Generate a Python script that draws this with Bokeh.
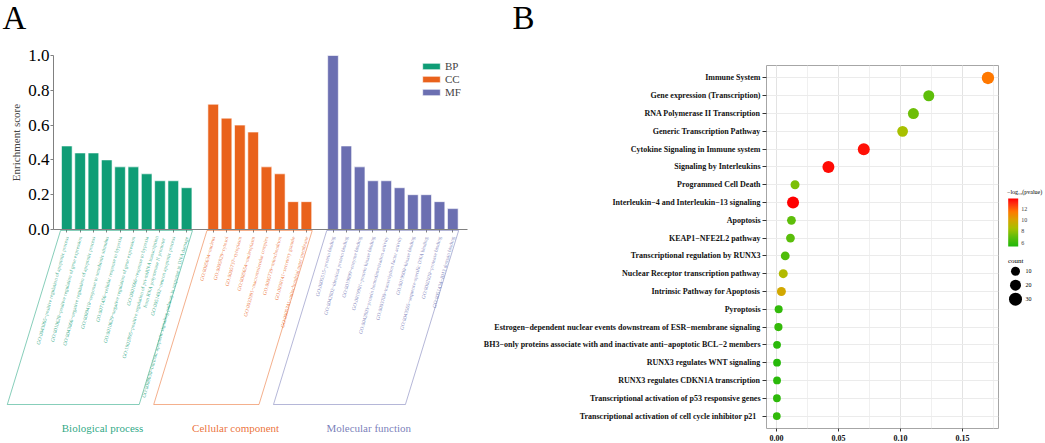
import math
import numpy as np
from bokeh.plotting import figure
from bokeh.models import (Range1d, FactorRange, FixedTicker, PrintfTickFormatter, Label, LabelSet,
                          PolyAnnotation, ColumnDataSource, Legend, LegendItem, LinearColorMapper,
                          ColorBar, SingleIntervalTicker, LinearAxis)
from bokeh.layouts import row, column
from bokeh.embed import file_html
from bokeh.resources import INLINE
from bokeh.core.properties import value

SERIF = "Liberation Serif"

# ---------------- Panel A data ----------------
bp_terms = [
    "GO:0043065~positive regulation of apoptotic process",
    "GO:0010628~positive regulation of gene expression",
    "GO:0043066~negative regulation of apoptotic process",
    "GO:0009410~response to xenobiotic stimulus",
    "GO:0071456~cellular response to hypoxia",
    "GO:0010629~negative regulation of gene expression",
    "GO:0001666~response to hypoxia",
    "GO:1902895~positive regulation of pri-miRNA transcription\nfrom RNA polymerase II promoter",
    "GO:0051402~neuron apoptotic process",
    "GO:0008630~intrinsic apoptotic signaling pathway in response to DNA damage",
]
bp_scores = [0.48, 0.44, 0.44, 0.40, 0.36, 0.36, 0.32, 0.28, 0.28, 0.24]

cc_terms = [
    "GO:0005634~nucleus",
    "GO:0005829~cytosol",
    "GO:0005737~cytoplasm",
    "GO:0005654~nucleoplasm",
    "GO:0032991~macromolecular complex",
    "GO:0005739~mitochondrion",
    "GO:0030141~secretory granule",
    "GO:0005741~mitochondrial outer membrane",
]
cc_scores = [0.72, 0.64, 0.60, 0.56, 0.36, 0.32, 0.16, 0.16]

mf_terms = [
    "GO:0005515~protein binding",
    "GO:0042802~identical protein binding",
    "GO:0019899~enzyme binding",
    "GO:0019901~protein kinase binding",
    "GO:0042803~protein homodimerization activity",
    "GO:0003700~transcription factor activity",
    "GO:0019900~kinase binding",
    "GO:0043565~sequence-specific DNA binding",
    "GO:0002020~protease binding",
    "GO:0051434~BH3 domain binding",
]
mf_scores = [1.00, 0.48, 0.36, 0.28, 0.28, 0.24, 0.20, 0.20, 0.16, 0.12]

group_keys = ["BP", "CC", "MF"]
group_names = ["Biological process", "Cellular component", "Molecular function"]
group_colors = ["#0f9d76", "#e9621c", "#6b6fb1"]
y_ticks_a = [0.0, 0.2, 0.4, 0.6, 0.8, 1.0]

# ---------------- Panel B data ----------------
pathways = [
    "Immune System",
    "Gene expression (Transcription)",
    "RNA Polymerase II Transcription",
    "Generic Transcription Pathway",
    "Cytokine Signaling in Immune system",
    "Signaling by Interleukins",
    "Programmed Cell Death",
    "Interleukin\u22124 and Interleukin\u221213 signaling",
    "Apoptosis",
    "KEAP1\u2212NFE2L2 pathway",
    "Transcriptional regulation by RUNX3",
    "Nuclear Receptor transcription pathway",
    "Intrinsic Pathway for Apoptosis",
    "Pyroptosis",
    "Estrogen\u2212dependent nuclear events downstream of ESR\u2212membrane signaling",
    "BH3\u2212only proteins associate with and inactivate anti\u2212apoptotic BCL\u22122 members",
    "RUNX3 regulates WNT signaling",
    "RUNX3 regulates CDKN1A transcription",
    "Transcriptional activation of p53 responsive genes",
    "Transcriptional  activation of  cell cycle inhibitor p21",
]
ratio = [0.1705, 0.1228, 0.1104, 0.1017, 0.0704, 0.0419, 0.0150, 0.0134, 0.0121, 0.0113,
         0.0071, 0.0055, 0.0040, 0.0018, 0.0016, 0.0005, 0.0005, 0.0005, 0.0004, 0.0003]
neg_log_p = [11.5, 7.0, 7.3, 8.5, 13.5, 13.6, 7.6, 13.8, 7.0, 6.9,
             6.6, 8.8, 9.8, 5.8, 5.9, 5.6, 5.5, 5.6, 5.7, 5.8]
counts = [27, 20, 20, 19, 25, 25, 10, 25, 9, 9,
          9, 10, 10, 5, 6, 4, 4, 4, 4, 4]
legend_counts = [10, 20, 30]
cbar_ticks = [6, 8, 10, 12]


def dot_size(c):
    return 7 + 0.2 * np.asarray(c, dtype=float)


PAGE_OFF = 0
HALL = 443
PAGE_BOTTOM = PAGE_OFF + HALL
TOTAL_W = 1045

# ======================= Figure A =======================
WA = 480
A_X0_PAGE = PAGE_OFF
PITCH = 13.31                          # px per category slot
AXIS_X_PAGE = 53                       # page x of the y axis (data x = -1)
Y0_PAGE, Y1_PAGE = 229, 55             # page y of score 0 and 1
PX_PER_SCORE = Y0_PAGE - Y1_PAGE

xa0 = -1 - (AXIS_X_PAGE - A_X0_PAGE) / PITCH
xa1 = xa0 + WA / PITCH


def ay(page_y):
    return (Y0_PAGE - page_y) / PX_PER_SCORE


figA = figure(width=WA, height=HALL, x_range=Range1d(xa0, xa1),
              y_range=Range1d(ay(PAGE_BOTTOM), ay(PAGE_OFF)),
              output_backend="svg", toolbar_location=None,
              min_border=0)
figA.outline_line_color = None
figA.grid.visible = False

groups_terms = [bp_terms, cc_terms, mf_terms]
groups_scores = [bp_scores, cc_scores, mf_scores]

positions = []
offset = 0
renderers = []
for terms, scores, col, key in zip(groups_terms, groups_scores, group_colors, group_keys):
    xs = [offset + i for i in range(len(scores))]
    positions.append(xs)
    offset = xs[-1] + 2
    src = ColumnDataSource(dict(x=xs, top=scores))
    r = figA.vbar(x="x", top="top", width=0.8, source=src, fill_color=col,
                  line_color="white", line_width=0.6)
    renderers.append((key, r))

x_axis_end = positions[-1][-1] + 1.1

# y axis
yax = figA.yaxis[0]
yax.fixed_location = -1
yax.bounds = (0, 1)
yax.ticker = FixedTicker(ticks=y_ticks_a)
yax.formatter = PrintfTickFormatter(format="%.1f")
yax.axis_label = "Enrichment score"
yax.axis_label_text_font = SERIF
yax.axis_label_text_font_size = "11px"
yax.axis_label_text_font_style = "normal"
yax.axis_label_standoff = 3
yax.major_label_text_font = SERIF
yax.major_label_text_font_size = "17px"
yax.major_label_text_color = "black"
yax.major_label_standoff = 1
yax.minor_tick_line_color = None
yax.axis_line_color = "#808080"
yax.major_tick_line_color = "#808080"
yax.major_tick_out = 3
yax.major_tick_in = 0

# x axes: one per group (shared baseline at score 0) carrying the GO term labels
xaxes = [figA.xaxis[0]]
for _ in range(2):
    ax = LinearAxis()
    figA.add_layout(ax, "below")
    xaxes.append(ax)
for i, (ax, xs, terms, col) in enumerate(zip(xaxes, positions, groups_terms, group_colors)):
    ax.fixed_location = 0
    ax.ticker = FixedTicker(ticks=xs)
    ax.major_label_overrides = {x: t for x, t in zip(xs, terms)}
    ax.major_label_orientation = math.radians(75)
    ax.major_label_text_font = SERIF
    ax.major_label_text_font_size = "5.2px"
    ax.major_label_text_color = col
    ax.major_label_text_alpha = 0.85
    ax.major_label_standoff = 4
    ax.minor_tick_line_color = None
    ax.major_tick_line_color = "#808080"
    ax.major_tick_out = 3
    ax.major_tick_in = 0
    if i == 0:
        ax.axis_line_color = "#808080"
        ax.bounds = (-1, x_axis_end)
    else:
        ax.axis_line_color = None

# parallelogram boxes + group names
SHIFT = 4.0
box_top, box_bot = ay(230), ay(404)
for xs, col, name in zip(positions, group_colors, group_names):
    x0, x1 = xs[0] - 0.47, xs[-1] + 0.44
    figA.add_layout(PolyAnnotation(xs=[x0, x1, x1 - SHIFT, x0 - SHIFT],
                                   ys=[box_top, box_top, box_bot, box_bot],
                                   xs_units="data", ys_units="data", fill_color=None, fill_alpha=0,
                                   line_color=col, line_alpha=0.5, line_width=1))
    figA.add_layout(Label(x=(x0 + x1) / 2 - SHIFT / 2 + 0.2, y=ay(427), text=name,
                          text_align="center", text_baseline="middle", text_color=col,
                          text_alpha=0.9, text_font=SERIF, text_font_size="11px"))

# panel letter A
figA.add_layout(Label(x=xa0 + 2 / PITCH, y=ay(17.5), text="A", text_align="left",
                      text_baseline="middle",
                      text_font=SERIF, text_font_size="33px", text_color="black"))

# legend
leg = Legend(items=[LegendItem(label=k, renderers=[r]) for k, r in renderers],
             location=(420 - A_X0_PAGE, PAGE_BOTTOM - 98.5), padding=0, margin=0, spacing=0,
             glyph_width=22, glyph_height=8, label_height=13, label_standoff=3,
             label_text_font=SERIF, label_text_font_size="11px",
             border_line_color=None, background_fill_color=None, background_fill_alpha=0)
figA.add_layout(leg)

# ======================= Figure B (letter strip + plot) =======================
WB = 519
B_X0_PAGE = PAGE_OFF + WA
HT = 34                                  # height of the strip holding the letter B
figT = figure(width=WB, height=HT, x_range=Range1d(B_X0_PAGE, B_X0_PAGE + WB),
              y_range=Range1d(PAGE_OFF + HT, PAGE_OFF),
              output_backend="svg", toolbar_location=None, min_border=0,
              x_axis_location=None, y_axis_location=None)
figT.grid.visible = False
figT.outline_line_color = None
figT.add_layout(Label(x=512, y=17.5, text="B", text_align="left", text_baseline="middle",
                      text_font=SERIF, text_font_size="33px", text_color="black"))

HB = HALL - HT
B_FRAME_LEFT_PAGE, B_FRAME_RIGHT_PAGE = 762, 998
B_FRAME_TOP_PAGE, B_FRAME_BOT_PAGE = 65, 429
B_LEFT = B_FRAME_LEFT_PAGE - B_X0_PAGE
B_RIGHT = WB - B_LEFT - (B_FRAME_RIGHT_PAGE - B_FRAME_LEFT_PAGE)
B_TOP = B_FRAME_TOP_PAGE - PAGE_OFF - HT
B_BOT = PAGE_BOTTOM - B_FRAME_BOT_PAGE
xr_b = (-0.008, 0.179)

mapper_stops = [(5.3, "#1fb80a"), (7.0, "#5ebe0a"), (8.5, "#a8c000"), (10.0, "#d8a400"),
                (11.5, "#ff7800"), (13.0, "#ff2a10"), (13.8, "#ff0000")]


def hex2rgb(h):
    h = h.lstrip("#")
    return np.array([int(h[i:i + 2], 16) for i in (0, 2, 4)], dtype=float)


lo, hi = mapper_stops[0][0], mapper_stops[-1][0]
vals = np.linspace(lo, hi, 256)
sv = [s[0] for s in mapper_stops]
rgbs = np.array([hex2rgb(s[1]) for s in mapper_stops])
palette = []
for v in vals:
    rgb = [np.interp(v, sv, rgbs[:, k]) for k in range(3)]
    palette.append("#%02x%02x%02x" % tuple(int(round(c)) for c in rgb))
mapper = LinearColorMapper(palette=palette, low=lo, high=hi)

figB = figure(width=WB, height=HB, x_range=Range1d(*xr_b),
              y_range=FactorRange(factors=list(reversed(pathways)), range_padding=0.2,
                                  range_padding_units="absolute"),
              output_backend="svg", toolbar_location=None,
              min_border_left=B_LEFT, min_border_right=B_RIGHT,
              min_border_top=B_TOP, min_border_bottom=B_BOT)
figB.background_fill_color = "white"
figB.outline_line_color = "#a6a6a6"
figB.outline_line_width = 1

srcB = ColumnDataSource(dict(x=ratio, y=pathways, p=neg_log_p, size=dot_size(counts)))
figB.scatter(x="x", y="y", size="size", source=srcB,
             fill_color={"field": "p", "transform": mapper}, line_color=None)

figB.xaxis.ticker = SingleIntervalTicker(interval=0.05, num_minor_ticks=2)
figB.xaxis.formatter = PrintfTickFormatter(format="%.2f")
figB.xgrid.grid_line_color = "#e3e3e3"
figB.xgrid.minor_grid_line_color = "#f0f0f0"
figB.ygrid.grid_line_color = "#ebebeb"
for ax in [figB.xaxis[0], figB.yaxis[0]]:
    ax.axis_line_color = None
    ax.major_tick_line_color = "#333333"
    ax.major_tick_in = 0
    ax.minor_tick_line_color = None
    ax.major_label_text_font = SERIF
    ax.major_label_text_font_size = "8px"
    ax.major_label_text_font_style = "bold"
    ax.major_label_text_color = "#111111"
    ax.major_label_standoff = 2
figB.yaxis.major_tick_out = 4
figB.xaxis.major_tick_out = 3

# ======================= Legend figure =======================
WL = TOTAL_W - WA - WB
L_X0_PAGE = PAGE_OFF + WA + WB
figL = figure(width=WL, height=HALL, x_range=Range1d(L_X0_PAGE, L_X0_PAGE + WL),
              y_range=Range1d(PAGE_BOTTOM, PAGE_OFF),
              output_backend="svg", toolbar_location=None, min_border=0,
              x_axis_location=None, y_axis_location=None)
figL.grid.visible = False
figL.outline_line_color = None

cb = ColorBar(color_mapper=mapper, location=(1007.7 - L_X0_PAGE, PAGE_BOTTOM - 246), width=10, height=48,
              padding=0, margin=0,
              major_label_text_font=SERIF, major_label_text_font_size="6px",
              ticker=FixedTicker(ticks=cbar_ticks), major_tick_line_color=None,
              minor_tick_line_color=None, bar_line_color=None, label_standoff=3,
              background_fill_color=None, background_fill_alpha=0, border_line_color=None)
figL.add_layout(cb)
figL.add_layout(Label(x=1006.5, y=191.5, text="\u2212log\u2081\u2080(pvalue)", text_align="left",
                      text_baseline="middle", text_font=SERIF, text_font_size="6px",
                      text_color="black"))

figL.add_layout(Label(x=1007.5, y=256, text="count", text_align="left", text_baseline="top",
                      text_font=SERIF, text_font_size="7px", text_color="black"))
ly = [270.7 + 14 * i for i in range(len(legend_counts))]
srcL = ColumnDataSource(dict(x=[1015] * len(legend_counts), y=ly, size=dot_size(legend_counts),
                             t=[str(c) for c in legend_counts], tx=[1025] * len(legend_counts)))
figL.scatter(x="x", y="y", size="size", source=srcL, fill_color="black", line_color=None)
figL.add_layout(LabelSet(x="tx", y="y", text="t", source=srcL, text_align="left",
                         text_baseline="middle", text_font=value(SERIF), text_font_size="6px",
                         text_color="black"))

layout = row(column(figA), column(column(figT), column(figB)), column(figL))
open("out.html", "w").write(file_html(layout, INLINE))
